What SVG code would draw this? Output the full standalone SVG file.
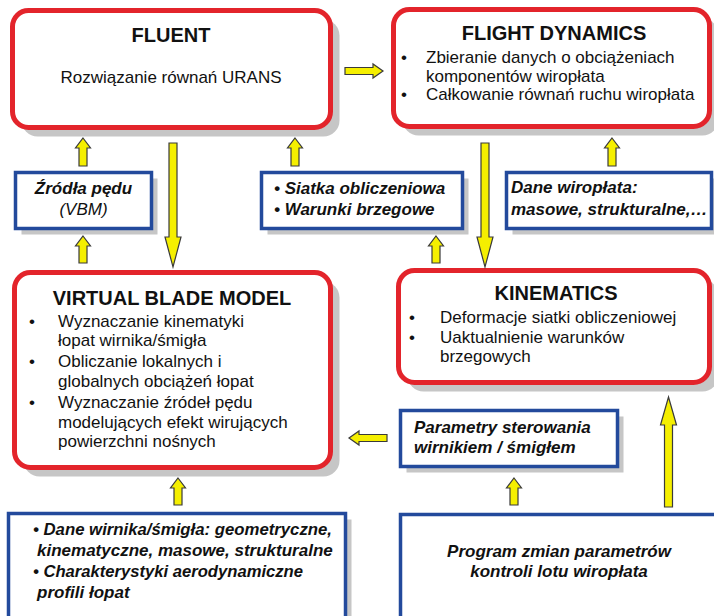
<svg xmlns="http://www.w3.org/2000/svg" width="714" height="616" viewBox="0 0 714 616">
<style>
.sh{fill:#c6c6c6}
.red{fill:#fff;stroke:#e3242b;stroke-width:5}
.blue{fill:#fff;stroke:#234a9c;stroke-width:3.5}
.arr{fill:#f5ef00;stroke:#3a3a3a;stroke-width:1.2;stroke-linejoin:miter}
text{font-family:"Liberation Sans",Arial,sans-serif;fill:#111}
.t{font-size:20px;font-weight:bold;text-anchor:middle}
.b{font-size:17px}
.c{text-anchor:middle}
.bi{font-size:17px;font-weight:bold;font-style:italic}
.i{font-size:17px;font-style:italic}
</style>
<rect width="714" height="616" fill="#fff"/>

<g id="fluent">
<rect class="sh" x="21.5" y="19.5" width="318" height="117" rx="16"/>
<rect class="red" x="12.5" y="10.5" width="318" height="117" rx="16"/>
<text class="t" x="171" y="42">FLUENT</text>
<text class="b c" x="171" y="83">Rozwiązanie równań URANS</text>
</g>

<g id="flight-dynamics">
<rect class="sh" x="402.5" y="18.5" width="316" height="117" rx="16"/>
<rect class="red" x="393.5" y="9.5" width="316" height="117" rx="16"/>
<text class="t" x="554" y="40">FLIGHT DYNAMICS</text>
<text class="b" x="401" y="63">•</text>
<text class="b" x="426" y="63">Zbieranie danych o obciążeniach</text>
<text class="b" x="426" y="82">komponentów wiropłata</text>
<text class="b" x="401" y="100">•</text>
<text class="b" x="426" y="100">Całkowanie równań ruchu wiropłata</text>
</g>

<g id="vbm">
<rect class="sh" x="23.5" y="281.5" width="316" height="195" rx="16"/>
<rect class="red" x="14.5" y="272.5" width="316" height="195" rx="16"/>
<text class="t" x="172" y="305">VIRTUAL BLADE MODEL</text>
<text class="b" x="29" y="327">•</text>
<text class="b" x="58" y="327">Wyznaczanie kinematyki</text>
<text class="b" x="58" y="346">łopat wirnika/śmigła</text>
<text class="b" x="29" y="367">•</text>
<text class="b" x="58" y="367">Obliczanie lokalnych i</text>
<text class="b" x="58" y="387">globalnych obciążeń łopat</text>
<text class="b" x="29" y="408">•</text>
<text class="b" x="58" y="408">Wyznaczanie źródeł pędu</text>
<text class="b" x="58" y="428">modelujących efekt wirujących</text>
<text class="b" x="58" y="447">powierzchni nośnych</text>
</g>

<g id="kinematics">
<rect class="sh" x="407.5" y="279.5" width="311" height="112" rx="16"/>
<rect class="red" x="398.5" y="270.5" width="311" height="112" rx="16"/>
<text class="t" x="556" y="300">KINEMATICS</text>
<text class="b" x="409" y="323">•</text>
<text class="b" x="440" y="323">Deformacje siatki obliczeniowej</text>
<text class="b" x="409" y="343">•</text>
<text class="b" x="440" y="343">Uaktualnienie warunków</text>
<text class="b" x="440" y="362">brzegowych</text>
</g>

<g id="zrodla">
<rect class="sh" x="21.5" y="178.5" width="136" height="56"/>
<rect class="blue" x="15.5" y="172.5" width="136" height="56"/>
<text class="bi c" x="83.5" y="194">Źródła pędu</text>
<text class="i c" x="83.5" y="215">(VBM)</text>
</g>

<g id="siatka">
<rect class="sh" x="267.5" y="178.5" width="201" height="56"/>
<rect class="blue" x="261.5" y="172.5" width="201" height="56"/>
<text class="bi" x="274" y="194">• Siatka obliczeniowa</text>
<text class="bi" x="274" y="215">• Warunki brzegowe</text>
</g>

<g id="dane-wiroplata">
<rect class="sh" x="512.5" y="178.5" width="205" height="56"/>
<rect class="blue" x="506.5" y="172.5" width="205" height="56"/>
<text class="bi" x="511" y="193">Dane wiropłata:</text>
<text class="bi" x="511" y="215">masowe, strukturalne,…</text>
</g>

<g id="parametry">
<rect class="sh" x="406.5" y="416.5" width="217" height="56"/>
<rect class="blue" x="400.5" y="410.5" width="217" height="56"/>
<text class="bi" x="414" y="433">Parametry sterowania</text>
<text class="bi" x="414" y="453">wirnikiem / śmigłem</text>
</g>

<g id="dane-wirnika">
<rect class="sh" x="14.5" y="519.5" width="337" height="120"/>
<rect class="blue" x="8.5" y="513.5" width="337" height="120"/>
<text class="bi" x="33" y="535" textLength="299" lengthAdjust="spacingAndGlyphs">• Dane wirnika/śmigła: geometryczne,</text>
<text class="bi" x="37" y="556">kinematyczne, masowe, strukturalne</text>
<text class="bi" x="33" y="577" textLength="270" lengthAdjust="spacingAndGlyphs">• Charakterystyki aerodynamiczne</text>
<text class="bi" x="37" y="598">profili łopat</text>
</g>

<g id="program">
<rect class="sh" x="406.5" y="520.5" width="320" height="120"/>
<rect class="blue" x="400.5" y="514.5" width="320" height="120"/>
<text class="bi c" x="559" y="557">Program zmian parametrów</text>
<text class="bi c" x="559" y="577">kontroli lotu wiropłata</text>
</g>

<g id="connectors">
<polygon class="arr" points="345,67.5 373,67.5 373,64 383,71 373,78 373,74.5 345,74.5"/>
<polygon class="arr" points="83,138 90.5,148 87,148 87,166 79,166 79,148 75.5,148"/>
<polygon class="arr" points="83,236 90.5,246 87,246 87,263 79,263 79,246 75.5,246"/>
<polygon class="arr" points="295,138 302.5,148 299,148 299,166 291,166 291,148 287.5,148"/>
<polygon class="arr" points="436,236 443.5,246 440,246 440,263 432,263 432,246 428.5,246"/>
<polygon class="arr" points="612,138 619.5,148 616,148 616,166 608,166 608,148 604.5,148"/>
<polygon class="arr" points="178,478 185.5,488 182,488 182,505 174,505 174,488 170.5,488"/>
<polygon class="arr" points="514,478 521.5,488 518,488 518,505 510,505 510,488 506.5,488"/>
<polygon class="arr" points="169,143 177,143 177,237 181,237 173,267 165,237 169,237"/>
<polygon class="arr" points="481,143 489,143 489,237 493,237 485,267 477,237 481,237"/>
<polygon class="arr" points="668.5,397 676.5,425 672.5,425 672.5,507 664.5,507 664.5,425 660.5,425"/>
<polygon class="arr" points="387,434.5 359,434.5 359,431 349,438 359,445 359,441.5 387,441.5"/>
</g>
</svg>
